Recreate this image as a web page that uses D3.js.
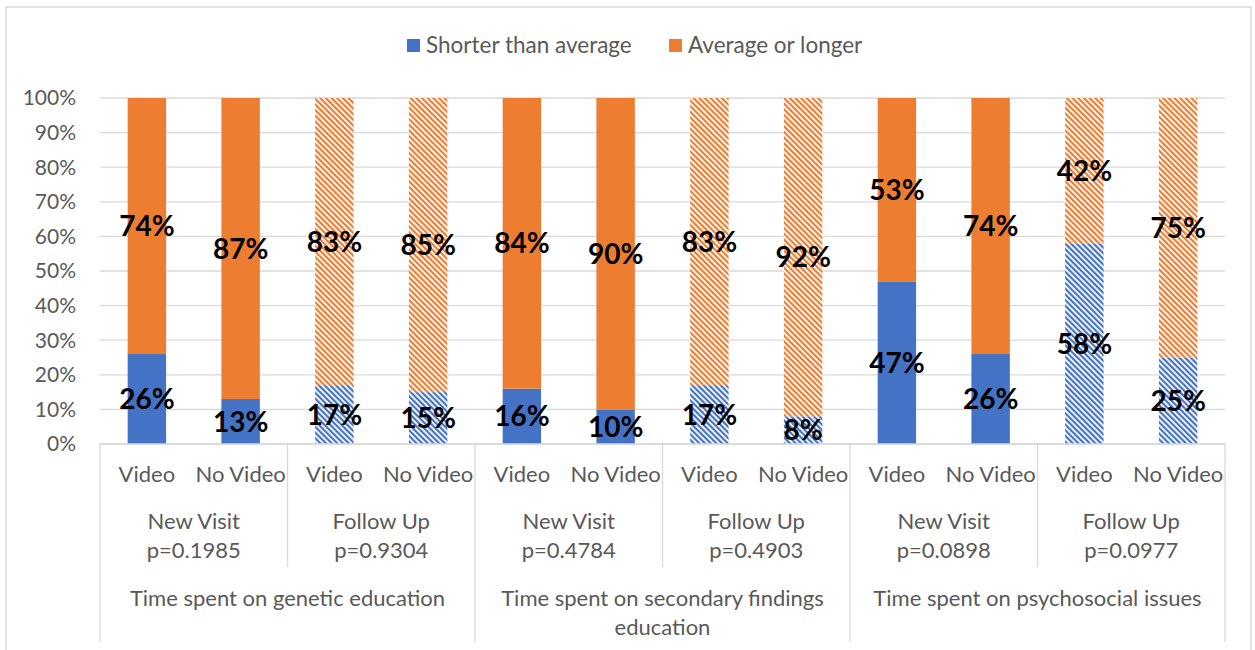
<!DOCTYPE html>
<html>
<head>
<meta charset="utf-8">
<script src="https://cdn.jsdelivr.net/npm/d3@7"></script>
<style>
  body { margin: 0; background: #fff; }
  svg text { font-family: Lato, "Open Sans", sans-serif; }
</style>
</head>
<body>
<div id="chart"></div>
<script>
(function() {
  const width = 1255;
  const height = 650;

  // data
  const topics = ["Time spent on genetic education", "Time spent on secondary findings\neducation", "Time spent on psychosocial issues"];
  const visits = ["New Visit", "Follow Up"];
  const pValues = ["p=0.1985", "p=0.9304", "p=0.4784", "p=0.4903", "p=0.0898", "p=0.0977"];
  const videoLabels = ["Video", "No Video"];
  const shorter = [26, 13, 17, 15, 16, 10, 17, 8, 47, 26, 58, 25];
  const longer = [74, 87, 83, 85, 84, 90, 83, 92, 53, 74, 42, 75];
  const seriesNames = ["Shorter than average", "Average or longer"];
  const colors = ["#4472C4", "#ED7D31"];
  const yTicks = [0, 10, 20, 30, 40, 50, 60, 70, 80, 90, 100];

  const left = 100, right = 1225, top = 98, bottom = 444;
  const textColor = "#595959";
  const gridColor = "#d9d9d9";

  const svg = d3.select("#chart")
    .append("svg")
    .attr("width", width)
    .attr("height", height);

  // hatch patterns for follow up bars
  const defs = svg.append("defs");
  colors.forEach((c, i) => {
    const p = defs.append("pattern")
      .attr("id", "hatch" + i)
      .attr("patternUnits", "userSpaceOnUse")
      .attr("width", 4)
      .attr("height", 4)
      .attr("patternTransform", "rotate(-45)");
    p.append("rect").attr("width", 4).attr("height", 4).attr("fill", "#fff");
    p.append("rect").attr("width", 2.2).attr("height", 4).attr("fill", c);
  });

  // chart border
  svg.append("rect")
    .attr("x", 6)
    .attr("y", 7)
    .attr("width", 1245)
    .attr("height", 660)
    .attr("fill", "none")
    .attr("stroke", gridColor)
    .attr("stroke-width", 1.5);

  const idx = d3.range(shorter.length);
  const x = d3.scaleBand()
    .domain(idx)
    .range([left, right])
    .paddingInner(0.59)
    .paddingOuter(0.295);
  const y = d3.scaleLinear().domain([0, 100]).range([bottom, top]);

  // gridlines
  svg.append("g")
    .selectAll("line")
    .data(yTicks)
    .join("line")
    .attr("x1", left)
    .attr("x2", right)
    .attr("y1", d => y(d))
    .attr("y2", d => y(d))
    .attr("stroke", gridColor)
    .attr("stroke-width", 1.3);

  // y axis labels
  svg.append("g")
    .selectAll("text")
    .data(yTicks)
    .join("text")
    .attr("x", 76)
    .attr("y", d => y(d))
    .attr("dy", "0.35em")
    .attr("text-anchor", "end")
    .attr("fill", textColor)
    .style("font-size", "21px")
    .text(d => d + "%");

  // stacked bars
  const stacked = idx.map(i => {
    const hatched = Math.floor(i / 2) % 2 === 1;
    return [
      {i, s: 0, y0: 0, y1: shorter[i], v: shorter[i], hatched},
      {i, s: 1, y0: shorter[i], y1: shorter[i] + longer[i], v: longer[i], hatched}
    ];
  }).flat();

  svg.append("g")
    .selectAll("rect")
    .data(stacked)
    .join("rect")
    .attr("x", d => x(d.i))
    .attr("width", x.bandwidth())
    .attr("y", d => y(d.y1))
    .attr("height", d => y(d.y0) - y(d.y1))
    .attr("fill", d => d.hatched ? "url(#hatch" + d.s + ")" : colors[d.s]);

  // data labels
  svg.append("g")
    .selectAll("text")
    .data(stacked)
    .join("text")
    .attr("x", d => x(d.i) + x.bandwidth() / 2)
    .attr("y", d => y((d.y0 + d.y1) / 2))
    .attr("dy", "0.36em")
    .attr("text-anchor", "middle")
    .attr("fill", "#000")
    .style("font-size", "28px")
    .style("font-weight", "bold")
    .text(d => d.v + "%");

  // category axis
  const step = x.step();
  svg.append("line")
    .attr("x1", left).attr("x2", right)
    .attr("y1", bottom).attr("y2", bottom)
    .attr("stroke", gridColor).attr("stroke-width", 1.3);

  const seps = d3.range(0, shorter.length + 1, 2);
  svg.append("g")
    .selectAll("line")
    .data(seps)
    .join("line")
    .attr("x1", d => left + d * step)
    .attr("x2", d => left + d * step)
    .attr("y1", bottom)
    .attr("y2", d => d % 4 === 0 ? 642 : 567)
    .attr("stroke", gridColor)
    .attr("stroke-width", 1.3);

  // level 1: video / no video
  svg.append("g")
    .selectAll("text")
    .data(idx)
    .join("text")
    .attr("x", d => x(d) + x.bandwidth() / 2)
    .attr("y", 474)
    .attr("dy", "0.35em")
    .attr("text-anchor", "middle")
    .attr("fill", textColor)
    .style("font-size", "22px")
    .text(d => videoLabels[d % 2]);

  // level 2: visit type and p value
  const groups = d3.range(pValues.length);
  const g2 = svg.append("g")
    .selectAll("text")
    .data(groups)
    .join("text")
    .attr("x", d => left + (d * 2 + 1) * step)
    .attr("y", 521)
    .attr("text-anchor", "middle")
    .attr("fill", textColor)
    .style("font-size", "22px");
  g2.append("tspan").attr("dy", "0.35em").text(d => visits[d % 2]);
  g2.append("tspan")
    .attr("x", d => left + (d * 2 + 1) * step)
    .attr("dy", "1.32em")
    .text(d => pValues[d]);

  // level 3: topics
  const g3 = svg.append("g")
    .selectAll("text")
    .data(topics)
    .join("text")
    .attr("x", (d, i) => left + (i * 4 + 2) * step)
    .attr("y", 598)
    .attr("text-anchor", "middle")
    .attr("fill", textColor)
    .style("font-size", "22px");
  g3.selectAll("tspan")
    .data((d, i) => d.split("\n").map(t => ({t, i})))
    .join("tspan")
    .attr("x", d => left + (d.i * 4 + 2) * step)
    .attr("dy", (d, j) => j === 0 ? "0.35em" : "1.32em")
    .text(d => d.t);

  // legend
  const legendX = [407, 669];
  const legend = svg.append("g")
    .selectAll("g")
    .data(seriesNames)
    .join("g")
    .attr("transform", (d, i) => `translate(${legendX[i]},39)`);
  legend.append("rect")
    .attr("width", 13)
    .attr("height", 13)
    .attr("fill", (d, i) => colors[i]);
  legend.append("text")
    .attr("x", 19)
    .attr("y", 6.5)
    .attr("dy", "0.35em")
    .attr("fill", textColor)
    .style("font-size", "22.5px")
    .text(d => d);

})();
</script>
</body>
</html>
